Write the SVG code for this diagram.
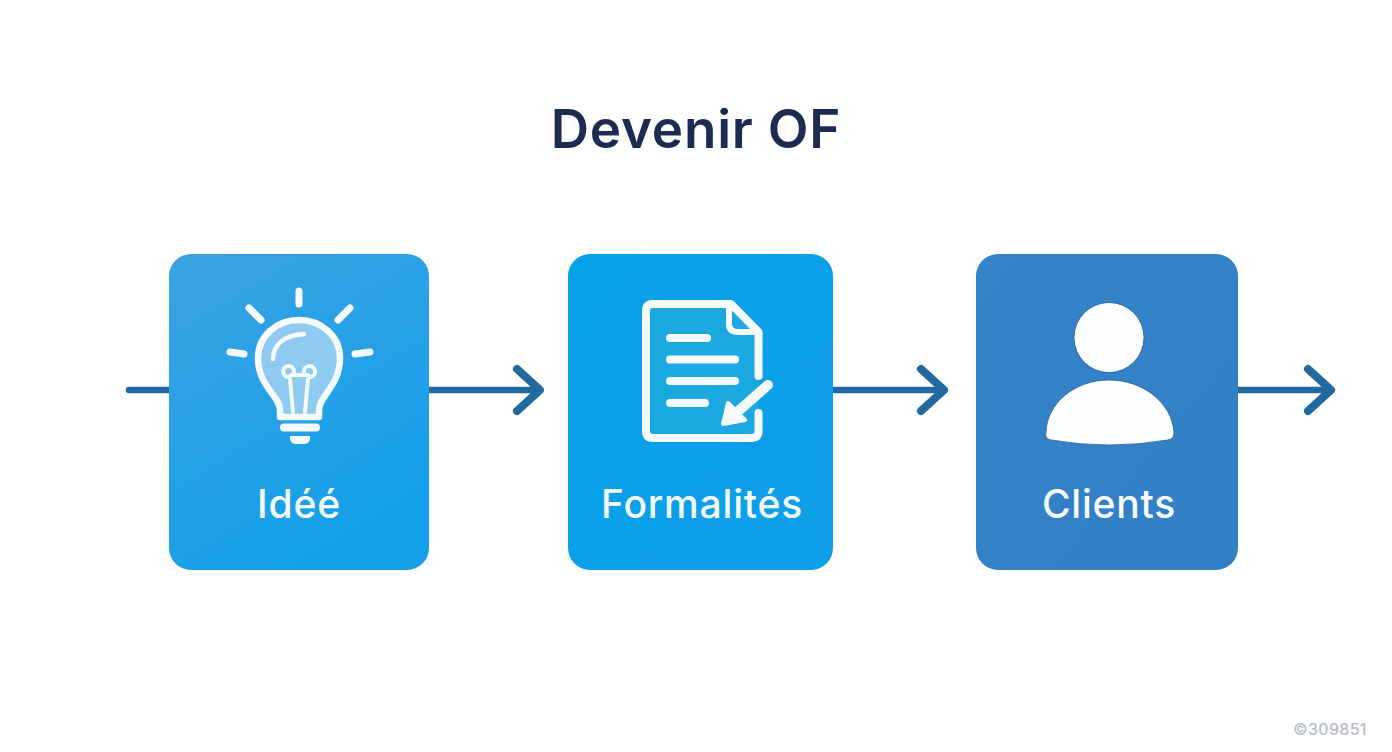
<svg xmlns="http://www.w3.org/2000/svg" width="1392" height="752" viewBox="0 0 1392 752">
<style>
.lbl{font-family:"Inter","Noto Sans",sans-serif;font-size:39px;font-weight:500;letter-spacing:.8px;fill:#f6fbfe;text-anchor:middle}
.title{font-family:"Inter","Noto Sans",sans-serif;font-size:53px;font-weight:600;letter-spacing:.8px;fill:#1d2b50;text-anchor:middle}
.wm{font-family:"Inter","Liberation Sans",sans-serif;font-size:16px;font-weight:500;letter-spacing:.3px;fill:#b6bcc8}
.conn{fill:none;stroke:#22699f;stroke-width:6.500;stroke-linecap:round;stroke-linejoin:round}
.head{stroke-width:8}
.w{fill:none;stroke:#f6fbfe;stroke-linecap:round;stroke-linejoin:round}
.person{fill:#fbfdfe;stroke:#1f5f96;stroke-width:.8}
</style>
<defs>
<linearGradient id="g1" x1="0" y1="0" x2="0.5" y2="1"><stop offset="0" stop-color="#3ba2e3"/><stop offset="1" stop-color="#14a0e9"/></linearGradient>
<linearGradient id="g2" x1="0" y1="0" x2="1" y2="1"><stop offset="0" stop-color="#08a0ea"/><stop offset="1" stop-color="#0f9fe8"/></linearGradient>
<linearGradient id="g3" x1="0" y1="0" x2="1" y2="1"><stop offset="0" stop-color="#3583c9"/><stop offset="1" stop-color="#327fc6"/></linearGradient>
</defs>
<rect width="1392" height="752" fill="#fff"/>
<text class="title" x="696" y="148">Devenir OF</text>
<g id="connectors">
<path class="conn" d="M129 390H172"/>
<path class="conn" d="M428 390H538"/><path class="conn head" d="M517 369L540 390L517 411"/>
<path class="conn" d="M832 390H942"/><path class="conn head" d="M921 369L944 390L921 411"/>
<path class="conn" d="M1237 390H1329"/><path class="conn head" d="M1308 369L1331 390L1308 411"/>
</g>
<g id="node-idee">
<rect x="169" y="254" width="260" height="316" rx="22" fill="url(#g1)"/>
<path d="M280 417V410C280 396 258 386 258 358C258 336 277 320 299 320C321 320 340 336 340 358C340 386 319 396 319 410V417Z" fill="#8fcbf0"/>
<path class="w" stroke-width="6.500" d="M280 417V410C280 396 258 386 258 358C258 336 277 320 299 320C321 320 340 336 340 358C340 386 319 396 319 410V417Z"/>
<path class="w" stroke-width="4.500" d="M273 359C273 345 284 335 304 334"/>
<path class="w" stroke-width="4" d="M293 412L290 379M305 412L308 379M288.500 377A5.500 5.500 0 1 1 294 372M310.500 377A5.500 5.500 0 1 0 304 372M291 375H308"/>
<path class="w" stroke-width="7" d="M299 291V304M249 308L261 320M350 308L338 320M230 352L244 354M370 352L355 354"/>
<path class="w" stroke-width="8" d="M284 427.500H316"/>
<path d="M290 436H310V438C310 443 306 444 303 444H297C294 444 290 443 290 438Z" fill="#f6fbfe"/>
<text class="lbl" x="299" y="518">Idéé</text>
</g>
<g id="node-formalites">
<rect x="568" y="254" width="265" height="316" rx="22" fill="url(#g2)"/>
<path d="M651 303H732L759 332V431Q759 439 751 439H653Q645 439 645 431V311Q645 303 651 303Z" fill="#1ca9e2"/>
<path class="w" stroke-width="8" d="M758.500 376V332L731 304H653Q646 304 646 311V431Q646 438 653 438H751Q758.500 438 758.500 431V413"/>
<path class="w" stroke-width="6" d="M729 306V324Q729 332 738 332H757"/>
<path class="w" stroke-width="8" d="M670 338H707M670 359.500H735M670 381H735M670 403H705"/>
<path class="w" stroke-width="10" d="M768 385L735 414"/>
<path d="M728 403L723 424L745 420Z" fill="#f6fbfe" stroke="#f6fbfe" stroke-width="4" stroke-linejoin="round"/>
<text class="lbl" x="702" y="518">Formalités</text>
</g>
<g id="node-clients">
<rect x="976" y="254" width="262" height="316" rx="22" fill="url(#g3)"/>
<circle class="person" cx="1109" cy="337.500" r="35"/>
<path class="person" d="M1046 432C1047 403 1075 380 1109 380C1143 380 1172 403 1174 432C1174 437 1172 439 1168 440Q1109 450 1051 440C1047 439 1045 437 1046 432Z"/>
<text class="lbl" x="1109" y="518">Clients</text>
</g>
<text class="wm" x="1293" y="735">©309851</text>
</svg>
